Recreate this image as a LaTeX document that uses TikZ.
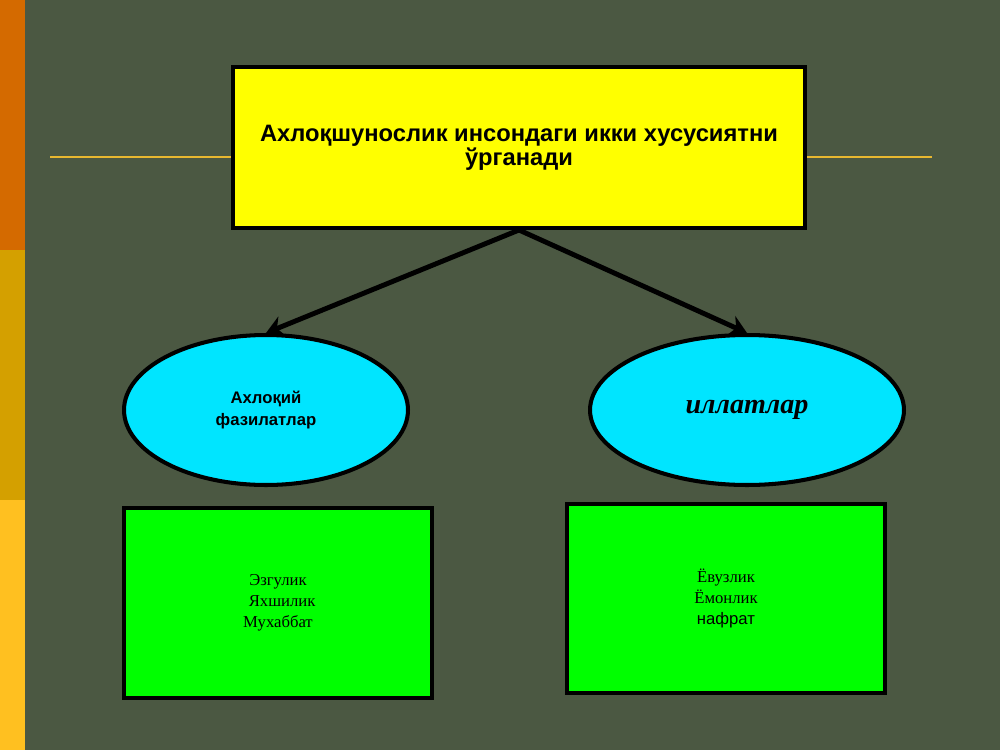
\documentclass[tikz,border=0pt]{standalone}
\usepackage{fontspec}
\setmainfont{Liberation Serif}
\setsansfont{Liberation Sans}
\usetikzlibrary{shapes.geometric,arrows.meta}
\definecolor{bgolive}{HTML}{4B5842}
\definecolor{stripa}{HTML}{D46A00}
\definecolor{stripb}{HTML}{D4A000}
\definecolor{stripc}{HTML}{FFC020}
\definecolor{rulegold}{HTML}{E8B830}
\definecolor{boxyellow}{HTML}{FFFF00}
\definecolor{ovalcyan}{HTML}{00E5FF}
\definecolor{boxgreen}{HTML}{00FF00}
\tikzset{
  topbox/.style={draw=black, line width=2.3pt, fill=boxyellow, minimum width=11.44cm, minimum height=3.22cm, align=center},
  oval/.style={ellipse, draw=black, line width=2.3pt, fill=ovalcyan, align=center},
  listbox/.style={draw=black, line width=2.3pt, fill=boxgreen, align=center},
  link/.style={line width=2.8pt, -{Stealth[length=10pt,width=12pt]}}
}
\begin{document}
\begin{tikzpicture}[x=0.02cm, y=-0.02cm]
\fill[bgolive] (0,0) rectangle (1000,750);
\fill[stripa] (0,0) rectangle (25,250);
\fill[stripb] (0,250) rectangle (25,500);
\fill[stripc] (0,500) rectangle (25,750);
\draw[rulegold, line width=1.2pt] (50,157) -- (932,157);

\node[topbox] (top) at (519,147.5) {\sffamily\bfseries\fontsize{13.5}{16}\selectfont Ахлоқшунослик инсондаги икки хусусиятни\\ \sffamily\bfseries\fontsize{13.5}{16}\selectfont ўрганади};

\node[oval, minimum width=5.68cm, minimum height=3cm] (good) at (266,410) {\sffamily\bfseries\fontsize{9.5}{12}\selectfont Ахлоқий\\ \sffamily\bfseries\fontsize{9.5}{12}\selectfont фазилатлар};
\node[oval, minimum width=6.28cm, minimum height=3cm] (bad) at (747,410) {\bfseries\itshape\fontsize{16}{19}\selectfont иллатлар};

\node[listbox, minimum width=6.16cm, minimum height=3.8cm] (goodlist) at (278,603) {\fontsize{9.5}{11.5}\selectfont Эзгулик\\ \fontsize{9.5}{11.5}\selectfont \ \ Яхшилик\\ \fontsize{9.5}{11.5}\selectfont Мухаббат};
\node[listbox, minimum width=6.36cm, minimum height=3.78cm] (badlist) at (726,598.5) {\fontsize{9.5}{11.5}\selectfont Ёвузлик\\ \fontsize{9.5}{11.5}\selectfont Ёмонлик\\ \fontsize{9.5}{11.5}\selectfont \sffamily нафрат};

\draw[link] (top.south) -- (good.north);
\draw[link] (top.south) -- (bad.north);
\end{tikzpicture}
\end{document}
